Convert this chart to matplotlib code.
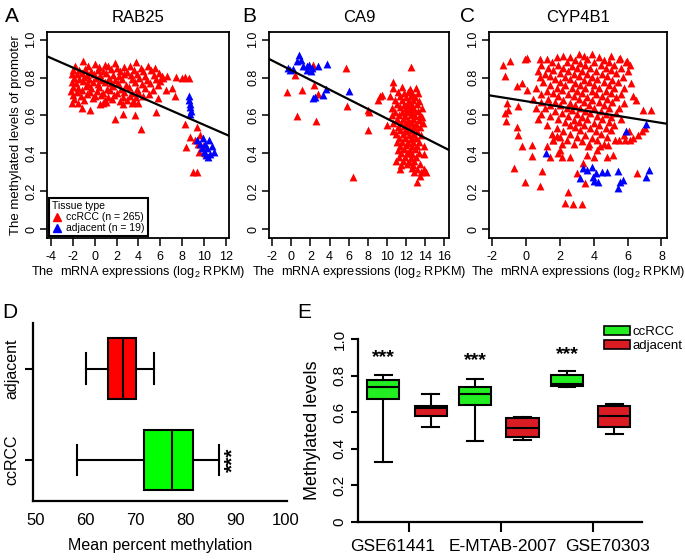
import numpy as np
import matplotlib
matplotlib.use("Agg")
from matplotlib import pyplot as plt
from matplotlib.lines import Line2D
from matplotlib.patches import Patch
from matplotlib.transforms import blended_transform_factory

plt.rcParams['font.family'] = ['Liberation Sans', 'DejaVu Sans']
plt.rcParams['mathtext.fontset'] = 'custom'
plt.rcParams['mathtext.rm'] = 'Liberation Sans'

# ---------------- data ----------------
# A: RAB25, (expression, methylation)
rab25_ccrcc = [
    (-1.1, 0.885), (0.0, 0.872), (0.9, 0.868), (1.9, 0.878), (3.8, 0.880), (3.2, 0.862),
    (-1.8, 0.858), (-0.6, 0.861), (0.4, 0.853), (1.2, 0.858), (2.0, 0.850), (2.7, 0.857),
    (4.2, 0.852), (4.9, 0.861), (5.5, 0.848),
    (-2.0, 0.842), (-1.4, 0.838), (-0.9, 0.845), (-0.3, 0.836), (0.3, 0.840), (0.8, 0.833),
    (1.5, 0.843), (2.3, 0.836), (3.0, 0.829), (3.6, 0.841), (4.4, 0.832), (5.2, 0.838), (5.9, 0.826),
    (-2.1, 0.821), (-1.6, 0.816), (-1.2, 0.824), (-0.7, 0.814), (-0.1, 0.819), (0.5, 0.812),
    (1.0, 0.822), (1.7, 0.815), (2.2, 0.809), (2.7, 0.820), (3.3, 0.812), (3.9, 0.818),
    (4.6, 0.807), (5.4, 0.815),
    (6.29, 0.800), (6.65, 0.810), (7.45, 0.802), (7.97, 0.800), (8.27, 0.801), (8.67, 0.795),
    (-1.9, 0.798), (-1.4, 0.793), (-1.0, 0.801), (-0.5, 0.790), (0.1, 0.796), (0.6, 0.788),
    (1.3, 0.799), (1.9, 0.786), (2.5, 0.794), (3.4, 0.790), (4.1, 0.797), (4.8, 0.785),
    (5.6, 0.792), (6.0, 0.784),
    (-2.1, 0.776), (-1.7, 0.770), (-1.1, 0.779), (-0.6, 0.768), (-0.2, 0.774), (0.3, 0.765),
    (0.9, 0.777), (1.5, 0.769), (2.1, 0.772), (2.9, 0.763), (3.7, 0.775), (4.3, 0.766),
    (5.1, 0.771), (5.8, 0.762), (7.05, 0.745),
    (-2.0, 0.752), (-1.5, 0.747), (-0.8, 0.755), (-0.3, 0.744), (0.4, 0.750), (1.1, 0.742),
    (1.7, 0.753), (2.4, 0.740), (3.1, 0.748), (3.9, 0.739), (4.6, 0.745), (5.3, 0.736),
    (-2.2, 0.731), (-1.6, 0.725), (-1.2, 0.734), (-0.4, 0.722), (0.2, 0.729), (0.8, 0.720),
    (1.4, 0.732), (2.0, 0.718), (2.7, 0.726), (3.4, 0.716), (4.0, 0.724), (5.0, 0.712),
    (-2.0, 0.710), (-1.3, 0.704), (-0.7, 0.712), (0.0, 0.701), (0.6, 0.708), (1.2, 0.699),
    (1.8, 0.706), (2.6, 0.697), (3.2, 0.703), (3.8, 0.695), (4.4, 0.701), (7.36, 0.700),
    (-1.9, 0.688), (-1.0, 0.684), (-0.2, 0.690), (0.9, 0.679), (1.6, 0.686), (2.3, 0.676),
    (3.0, 0.683), (3.6, 0.672),
    (-2.1, 0.668), (-1.5, 0.664), (0.5, 0.662), (1.0, 0.672), (2.6, 0.659), (3.4, 0.666),
    (4.0, 0.668), (5.8, 0.690),
    (-1.2, 0.640), (-0.4, 0.630), (0.8, 0.668), (1.9, 0.580), (2.6, 0.610), (3.7, 0.600),
    (4.2, 0.530), (5.6, 0.620), (6.5, 0.735), (6.2, 0.810),
    (8.27, 0.556), (8.37, 0.436), (8.73, 0.489), (9.19, 0.472), (9.35, 0.542), (9.58, 0.410),
    (9.65, 0.498), (9.03, 0.304), (9.34, 0.304), (9.90, 0.440), (10.1, 0.400), (9.50, 0.450),
]
rab25_adjacent = [
    (8.60, 0.700), (8.65, 0.680), (8.70, 0.660), (8.70, 0.645), (8.80, 0.625), (8.75, 0.610),
    (9.40, 0.470), (9.60, 0.450), (9.80, 0.430), (10.0, 0.410), (10.2, 0.390), (10.4, 0.380),
    (10.5, 0.470), (10.7, 0.440), (10.9, 0.410), (10.3, 0.430), (10.6, 0.395), (9.90, 0.480),
    (10.1, 0.450),
]

# B: CA9
ca9_ccrcc = [
    (0.38, 0.815), (-0.43, 0.724), (1.08, 0.732), (2.37, 0.759), (2.83, 0.713), (2.30, 0.868),
    (5.73, 0.850), (0.55, 0.595), (2.58, 0.569), (5.80, 0.651), (6.43, 0.275), (8.07, 0.630),
    (8.17, 0.620), (8.07, 0.525), (9.12, 0.683), (9.30, 0.700), (9.47, 0.710), (10.06, 0.550),
    (12.51, 0.854), (10.62, 0.776),
    (10.7, 0.745), (11.6, 0.748), (12.4, 0.742), (13.1, 0.745),
    (11.2, 0.722), (11.8, 0.718), (12.2, 0.724), (12.7, 0.716), (13.3, 0.721),
    (10.3, 0.700), (11.4, 0.703), (12.0, 0.697), (12.5, 0.702), (13.0, 0.698),
    (10.9, 0.680), (11.6, 0.684), (12.3, 0.678), (12.8, 0.682), (13.4, 0.677),
    (11.1, 0.660), (11.8, 0.656), (12.1, 0.663), (12.6, 0.657), (13.2, 0.661),
    (10.6, 0.640), (11.4, 0.643), (12.0, 0.637), (12.4, 0.642), (12.9, 0.636), (13.7, 0.640),
    (10.9, 0.620), (11.6, 0.617), (12.2, 0.623), (12.7, 0.618), (13.3, 0.622),
    (10.5, 0.600), (11.3, 0.603), (11.9, 0.597), (12.5, 0.602), (13.0, 0.596), (13.5, 0.601),
    (11.1, 0.580), (11.7, 0.584), (12.2, 0.577), (12.8, 0.582), (13.4, 0.578),
    (10.7, 0.560), (11.5, 0.563), (12.0, 0.557), (12.6, 0.562), (13.1, 0.556), (13.8, 0.560),
    (11.2, 0.540), (11.8, 0.543), (12.3, 0.537), (12.9, 0.542), (13.5, 0.538),
    (10.7, 0.520), (11.4, 0.523), (12.1, 0.517), (12.6, 0.522), (13.2, 0.518),
    (11.0, 0.500), (11.7, 0.503), (12.3, 0.497), (12.8, 0.502), (13.6, 0.498),
    (11.3, 0.480), (11.9, 0.483), (12.5, 0.477), (13.1, 0.482),
    (11.1, 0.460), (11.6, 0.463), (12.2, 0.457), (12.8, 0.462), (13.4, 0.458),
    (11.4, 0.440), (12.0, 0.443), (12.6, 0.437), (13.2, 0.442), (13.9, 0.438),
    (11.2, 0.420), (11.8, 0.423), (12.4, 0.417), (13.0, 0.422),
    (11.5, 0.400), (12.1, 0.403), (12.7, 0.397), (13.4, 0.402), (13.9, 0.398),
    (11.3, 0.380), (11.9, 0.383), (12.5, 0.377), (13.1, 0.382),
    (11.0, 0.360), (11.7, 0.363), (12.3, 0.357), (12.9, 0.362),
    (11.5, 0.340), (12.1, 0.343), (12.8, 0.337), (13.5, 0.342),
    (11.4, 0.320), (12.6, 0.322), (13.2, 0.318), (13.9, 0.320),
    (12.9, 0.300), (13.6, 0.302), (14.1, 0.300), (13.5, 0.280), (13.2, 0.250),
    (12.0, 0.620), (12.4, 0.560), (11.9, 0.520), (12.7, 0.480), (12.2, 0.400), (13.7, 0.590),
]
ca9_adjacent = [
    (-0.32, 0.850), (0.20, 0.847), (0.83, 0.920), (0.97, 0.894), (1.25, 0.859), (1.60, 0.859),
    (1.88, 0.864), (2.02, 0.836), (2.83, 0.859), (3.70, 0.870), (2.23, 0.690), (2.48, 0.695),
    (3.28, 0.706), (3.63, 0.741), (6.08, 0.727), (0.55, 0.885), (2.12, 0.850), (-0.15, 0.840),
    (1.67, 0.840),
]

# C: CYP4B1
cyp4b1_ccrcc = [
    (3.1, 0.925), (3.9, 0.925),
    (1.8, 0.910), (2.2, 0.912), (2.6, 0.908), (3.4, 0.911), (4.3, 0.909), (5.0, 0.912),
    (0.8, 0.895), (1.2, 0.897), (2.9, 0.893), (3.6, 0.896), (4.6, 0.894), (5.5, 0.897),
    (1.5, 0.880), (2.4, 0.882), (3.2, 0.878), (4.0, 0.881), (4.9, 0.879), (5.9, 0.882),
    (0.9, 0.865), (1.9, 0.867), (2.7, 0.863), (3.5, 0.866), (4.4, 0.864), (5.2, 0.867),
    (1.3, 0.850), (2.2, 0.852), (3.0, 0.848), (3.8, 0.851), (4.7, 0.849), (5.6, 0.852),
    (0.7, 0.835), (1.6, 0.837), (2.5, 0.833), (3.3, 0.836), (4.1, 0.834), (5.0, 0.837), (6.0, 0.833),
    (1.1, 0.820), (2.0, 0.822), (2.8, 0.818), (3.6, 0.821), (4.5, 0.819), (5.3, 0.822),
    (0.8, 0.805), (1.4, 0.807), (2.3, 0.803), (3.1, 0.806), (3.9, 0.804), (4.8, 0.807), (5.7, 0.803),
    (1.7, 0.790), (2.6, 0.792), (3.4, 0.788), (4.2, 0.791), (5.1, 0.789),
    (1.0, 0.775), (2.0, 0.777), (2.9, 0.773), (3.7, 0.776), (4.6, 0.774), (5.4, 0.777), (6.2, 0.773),
    (1.4, 0.760), (2.3, 0.762), (3.2, 0.758), (4.0, 0.761), (4.9, 0.759),
    (0.6, 0.745), (1.8, 0.747), (2.7, 0.743), (3.5, 0.746), (4.3, 0.744), (5.2, 0.747), (5.8, 0.743),
    (1.2, 0.730), (2.1, 0.732), (3.0, 0.728), (3.9, 0.731), (4.7, 0.729),
    (0.9, 0.715), (1.6, 0.717), (2.5, 0.713), (3.3, 0.716), (4.1, 0.714), (5.0, 0.717), (5.6, 0.713),
    (1.9, 0.700), (2.8, 0.702), (3.6, 0.698), (4.5, 0.701), (5.3, 0.699), (6.3, 0.702),
    (0.4, 0.685), (1.3, 0.687), (2.2, 0.683), (3.1, 0.686), (3.9, 0.684), (4.8, 0.687),
    (0.9, 0.670), (1.7, 0.672), (2.6, 0.668), (3.4, 0.671), (4.3, 0.669), (5.1, 0.672), (5.8, 0.668),
    (1.4, 0.655), (2.0, 0.657), (2.9, 0.653), (3.7, 0.656), (4.6, 0.654),
    (0.6, 0.640), (1.1, 0.642), (2.4, 0.638), (3.2, 0.641), (4.0, 0.639), (4.9, 0.642), (5.5, 0.638),
    (1.7, 0.625), (2.7, 0.627), (3.5, 0.623), (4.4, 0.626),
    (0.9, 0.610), (2.1, 0.612), (3.0, 0.608), (3.8, 0.611), (4.7, 0.609), (5.3, 0.612),
    (1.4, 0.595), (2.5, 0.597), (3.3, 0.593), (4.2, 0.596), (5.0, 0.594),
    (0.7, 0.580), (1.9, 0.582), (2.8, 0.578), (3.6, 0.581), (4.5, 0.579), (5.6, 0.582),
    (2.3, 0.565), (3.1, 0.567), (4.0, 0.563), (4.9, 0.566),
    (1.2, 0.550), (2.6, 0.552), (3.4, 0.548), (4.3, 0.551), (5.2, 0.549),
    (1.8, 0.535), (2.9, 0.537), (3.8, 0.533), (4.7, 0.536),
    (2.2, 0.520), (3.2, 0.522), (4.1, 0.518), (5.0, 0.521), (6.1, 0.517),
    (1.5, 0.500), (2.6, 0.502), (3.5, 0.498), (4.4, 0.501), (5.8, 0.499),
    (2.0, 0.485), (3.0, 0.487), (3.9, 0.483), (4.8, 0.486), (6.3, 0.482),
    (1.6, 0.470), (2.4, 0.472), (3.3, 0.468), (4.2, 0.471), (5.5, 0.469),
    (2.1, 0.450), (2.8, 0.452), (3.7, 0.448), (4.6, 0.451),
    (-1.35, 0.868), (-0.96, 0.886), (-1.25, 0.806), (-0.56, 0.757), (-0.27, 0.771), (0.07, 0.903),
    (-0.10, 0.900), (0.07, 0.736), (-1.15, 0.666), (-1.06, 0.630), (-1.25, 0.613), (-1.19, 0.569),
    (-0.46, 0.648), (-0.52, 0.542), (-0.50, 0.498), (-0.27, 0.437), (0.32, 0.445), (0.32, 0.389),
    (-0.72, 0.322), (-0.07, 0.252), (0.81, 0.229), (0.95, 0.310),
    (6.92, 0.630), (6.52, 0.683), (6.13, 0.868), (5.97, 0.886), (5.54, 0.903), (6.82, 0.516),
    (7.02, 0.533), (6.62, 0.498), (6.13, 0.472), (5.83, 0.472), (6.56, 0.296), (7.41, 0.627),
    (2.29, 0.141), (2.74, 0.134), (3.28, 0.134), (2.49, 0.199), (2.98, 0.296), (3.47, 0.243),
    (2.59, 0.384), (2.09, 0.384), (2.00, 0.419), (1.40, 0.384), (1.25, 0.437), (1.60, 0.472),
    (1.80, 0.490), (3.37, 0.349), (3.57, 0.393), (4.00, 0.384), (4.16, 0.419), (4.36, 0.437),
    (3.67, 0.437), (4.75, 0.384), (5.15, 0.393), (5.24, 0.472), (4.85, 0.445), (1.90, 0.400),
]
cyp4b1_adjacent = [
    (1.17, 0.401), (3.18, 0.273), (3.57, 0.313), (3.87, 0.331), (3.93, 0.278), (4.13, 0.296),
    (4.26, 0.252), (4.00, 0.257), (4.46, 0.301), (4.75, 0.305), (5.44, 0.310), (5.54, 0.252),
    (5.74, 0.260), (5.41, 0.217), (5.93, 0.516), (7.07, 0.556), (7.11, 0.278), (7.27, 0.313),
    (3.37, 0.322),
]

# regression lines (intercept, slope)
rab25_fit = (0.802, -0.0251)
ca9_fit = (0.838, -0.0254)
cyp4b1_fit = (0.675, -0.01425)

# D: mean percent methylation
d_groups = ["ccRCC", "adjacent"]
d_whislo = [58.2, 60.1]
d_q1 = [71.7, 64.5]
d_med = [77.2, 67.5]
d_q3 = [81.5, 70.1]
d_whishi = [86.7, 73.7]

# E: validation datasets
e_datasets = ["GSE61441", "E-MTAB-2007", "GSE70303"]
e_ccrcc_whislo = [0.324, 0.439, 0.737]
e_ccrcc_q1 = [0.673, 0.640, 0.740]
e_ccrcc_med = [0.735, 0.698, 0.755]
e_ccrcc_q3 = [0.773, 0.737, 0.801]
e_ccrcc_whishi = [0.804, 0.782, 0.826]
e_adj_whislo = [0.516, 0.448, 0.479]
e_adj_q1 = [0.580, 0.466, 0.517]
e_adj_med = [0.620, 0.512, 0.581]
e_adj_q3 = [0.634, 0.567, 0.631]
e_adj_whishi = [0.698, 0.572, 0.644]
e_star_y = [0.900, 0.883, 0.914]

RED = '#ff0000'
BLUE = '#0000ff'


def scatter_panel(ax, red, blue, fit, xlim, xticks, title):
    rx, ry = np.array(red).T
    bx, by = np.array(blue).T
    ax.scatter(rx, ry, marker='^', s=32, color=RED, linewidths=0, zorder=2)
    ax.scatter(bx, by, marker='^', s=32, color=BLUE, linewidths=0, zorder=2)
    ax.axline((0, fit[0]), slope=fit[1], color='black', lw=1.6, zorder=3)
    ax.set_xlim(*xlim)
    ax.set_ylim(-0.045, 1.04)
    ax.set_xticks(xticks)
    ax.set_xticklabels([str(t) for t in xticks], fontsize=9)
    yt = [0, 0.2, 0.4, 0.6, 0.8, 1.0]
    ax.set_yticks(yt)
    ax.set_yticklabels(["0", "0.2", "0.4", "0.6", "0.8", "1.0"], fontsize=9,
                       rotation=90, va='center')
    ax.tick_params(axis='x', direction='out', length=6, width=1.1, pad=3)
    ax.tick_params(axis='y', direction='out', length=5, width=1.1, pad=2)
    for sp in ax.spines.values():
        sp.set_linewidth(1.3)
    ax.set_title(title, fontsize=12, pad=7)
    ax.set_xlabel(r"The  mRNA expressions (log$_2$ RPKM)", fontsize=9.2, labelpad=1)


fig = plt.figure(figsize=(6.85, 5.6), dpi=100)

axA = fig.add_axes([0.0686, 0.575, 0.2657, 0.368])
axB = fig.add_axes([0.3927, 0.575, 0.2628, 0.368])
axC = fig.add_axes([0.7139, 0.575, 0.2599, 0.368])

scatter_panel(axA, rab25_ccrcc, rab25_adjacent, rab25_fit, (-4.37, 12.3),
              [-4, -2, 0, 2, 4, 6, 8, 10, 12], "RAB25")
scatter_panel(axB, ca9_ccrcc, ca9_adjacent, ca9_fit, (-2.35, 16.53),
              [-2, 0, 2, 4, 6, 8, 10, 12, 14, 16], "CA9")
scatter_panel(axC, cyp4b1_ccrcc, cyp4b1_adjacent, cyp4b1_fit, (-2.2, 8.33),
              [-2, 0, 2, 4, 6, 8], "CYP4B1")
axA.set_ylabel("The methylated levels of promoter", fontsize=9.5, labelpad=2)

handles = [Line2D([], [], ls='none', marker='^', color=RED, markersize=5.5,
                  label='ccRCC (n = 265)'),
           Line2D([], [], ls='none', marker='^', color=BLUE, markersize=5.5,
                  label='adjacent (n = 19)')]
leg = axA.legend(handles=handles, title='Tissue type', loc='lower left', fontsize=7.5,
                 title_fontsize=7.5, fancybox=False, edgecolor='black', framealpha=1,
                 borderaxespad=0.15, handlelength=1.0, handletextpad=0.4,
                 labelspacing=0.1, borderpad=0.3, alignment='left')
leg.get_frame().set_linewidth(1.5)

# ---------------- D ----------------
axD = fig.add_axes([0.0482, 0.1054, 0.3708, 0.318])
d_colors = ['#00ff00', RED]
d_stats = [dict(label=g, whislo=d_whislo[i], q1=d_q1[i], med=d_med[i], q3=d_q3[i],
                whishi=d_whishi[i], fliers=[]) for i, g in enumerate(d_groups)]
bpD = axD.bxp(d_stats, positions=[1, 2], widths=0.66, capwidths=0.33,
              orientation='horizontal', patch_artist=True, showfliers=False,
              boxprops=dict(lw=1.5, edgecolor='black'),
              medianprops=dict(color='black', lw=1.5),
              whiskerprops=dict(lw=1.5), capprops=dict(lw=1.5))
for patch, c in zip(bpD['boxes'], d_colors):
    patch.set_facecolor(c)
axD.set_xlim(49.5, 100.3)
axD.set_ylim(0.55, 2.5)
axD.set_xticks([50, 60, 70, 80, 90, 100])
axD.set_xticklabels(["50", "60", "70", "80", "90", "100"], fontsize=12)
axD.set_yticks([1, 2])
axD.set_yticklabels(d_groups, fontsize=11.5, rotation=90, va='center')
axD.tick_params(axis='x', length=0, pad=9)
axD.tick_params(axis='y', direction='out', length=6, width=1.5, pad=4)
axD.spines['top'].set_visible(False)
axD.spines['right'].set_visible(False)
axD.spines['left'].set_linewidth(1.6)
axD.spines['bottom'].set_linewidth(1.6)
axD.set_xlabel("Mean percent methylation", fontsize=11.5, labelpad=7)
axD.text(89.4, 1, "***", rotation=90, ha='center', va='center', fontsize=15,
         fontweight='bold')

# ---------------- E ----------------
axE = fig.add_axes([0.5226, 0.0684, 0.4146, 0.3263])
groups = np.arange(1, len(e_datasets) + 1)
cc_stats = [dict(whislo=e_ccrcc_whislo[i], q1=e_ccrcc_q1[i], med=e_ccrcc_med[i],
                 q3=e_ccrcc_q3[i], whishi=e_ccrcc_whishi[i], fliers=[])
            for i in range(len(e_datasets))]
adj_stats = [dict(whislo=e_adj_whislo[i], q1=e_adj_q1[i], med=e_adj_med[i],
                  q3=e_adj_q3[i], whishi=e_adj_whishi[i], fliers=[])
             for i in range(len(e_datasets))]
E_GREEN = '#22ee22'
E_RED = '#dc1c24'
common = dict(widths=0.35, capwidths=0.18, patch_artist=True, showfliers=False,
              manage_ticks=False,
              boxprops=dict(lw=1.5, edgecolor='black'),
              medianprops=dict(color='black', lw=1.5),
              whiskerprops=dict(lw=1.5), capprops=dict(lw=1.5))
bp1 = axE.bxp(cc_stats, positions=groups - 0.28, **common)
bp2 = axE.bxp(adj_stats, positions=groups + 0.235, **common)
for p in bp1['boxes']:
    p.set_facecolor(E_GREEN)
for p in bp2['boxes']:
    p.set_facecolor(E_RED)
for gx, sy in zip(groups - 0.28, e_star_y):
    axE.text(gx, sy, "***", ha='center', va='center', fontsize=14, fontweight='bold')
axE.set_xlim(0.444, 3.535)
axE.set_ylim(0, 1.0)
axE.set_xticks(groups)
axE.set_xticklabels([])
# labels sit slightly spread out from their ticks in the original
trans = blended_transform_factory(axE.transData, axE.transAxes)
for g, name, off in zip(groups, e_datasets, [-0.175, 0.02, 0.165]):
    axE.text(g + off, -0.138, name, transform=trans, ha='center', va='center',
             fontsize=12.5)
axE.set_yticks([0, 0.2, 0.4, 0.6, 0.8, 1.0])
axE.set_yticklabels(["0", "0.2", "0.4", "0.6", "0.8", "1.0"], fontsize=11,
                    rotation=90, va='center')
axE.tick_params(axis='x', direction='out', length=7, width=1.5)
axE.tick_params(axis='y', direction='out', length=5, width=1.5, pad=3)
axE.spines['top'].set_visible(False)
axE.spines['right'].set_visible(False)
axE.spines['left'].set_linewidth(1.6)
axE.spines['bottom'].set_linewidth(1.6)
axE.set_ylabel("Methylated levels", fontsize=13)
axE.yaxis.set_label_coords(-0.13, 0.5)
eh = [Patch(facecolor=E_GREEN, edgecolor='black', lw=1.2, label='ccRCC'),
      Patch(facecolor=E_RED, edgecolor='black', lw=1.2, label='adjacent')]
axE.legend(handles=eh, loc='upper left', bbox_to_anchor=(604 / 685, 1 - 326 / 560),
           bbox_transform=fig.transFigure, frameon=False, fontsize=9.5,
           handlelength=2.0, handleheight=0.65, labelspacing=0.15,
           handletextpad=0.15, borderpad=0, borderaxespad=0)

# panel letters
for letter, x, y in [("A", 5, 22), ("B", 242, 22), ("C", 460, 22),
                     ("D", 2, 318), ("E", 297, 318)]:
    fig.text(x / 685, 1 - y / 560, letter, fontsize=15, ha='left', va='baseline')

fig.savefig("out.png", dpi=100)
